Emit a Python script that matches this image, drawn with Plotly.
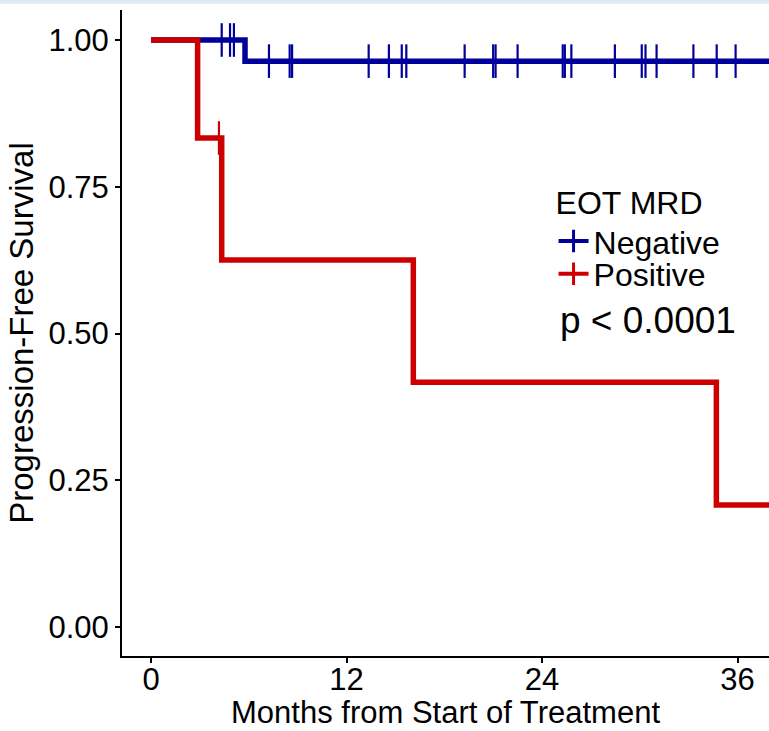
import plotly.graph_objects as go
import numpy as np

# ---- data ----
neg_event_times = [0.0, 5.77]
neg_event_surv = [1.0, 0.964]
neg_end_time = 38.5
neg_censor_times = [4.34, 4.85, 5.09, 7.24, 8.51, 8.66, 13.36, 14.60, 15.39, 15.67,
                    19.25, 21.00, 21.15, 22.50, 25.27, 25.40, 25.80, 28.47, 30.12,
                    30.35, 31.03, 33.29, 34.72, 35.88]

pos_event_times = [0.0, 2.86, 4.34, 16.1, 34.7]
pos_event_surv = [1.0, 0.833, 0.625, 0.417, 0.208]
pos_end_time = 38.5
pos_censor_times = [4.17]

group_names = ["Negative", "Positive"]
group_colors = ["#00009a", "#cc0000"]
legend_title = "EOT MRD"
p_text = "p < 0.0001"
x_title = "Months from Start of Treatment"
y_title = "Progression-Free Survival"
x_ticks = [0, 12, 24, 36]
y_ticks = [0.0, 0.25, 0.5, 0.75, 1.0]
y_tick_labels = ["0.00", "0.25", "0.50", "0.75", "1.00"]

FONT = "Liberation Sans, Arial, sans-serif"


def surv_at(times, surv, t):
    idx = np.searchsorted(times, t, side="right") - 1
    return surv[max(idx, 0)]


fig = go.Figure()

groups = [
    (neg_event_times, neg_event_surv, neg_end_time, neg_censor_times),
    (pos_event_times, pos_event_surv, pos_end_time, pos_censor_times),
]
legend_ids = ["legend", "legend2"]

for (et, es, end, ct), name, col, lg in zip(groups, group_names, group_colors, legend_ids):
    xs = list(et) + [end]
    ys = list(es) + [es[-1]]
    fig.add_trace(go.Scatter(
        x=xs, y=ys, mode="lines", line=dict(color=col, width=5.5, shape="hv"),
        name=name, legendgroup=name, showlegend=False, hoverinfo="skip"))
    cy = [surv_at(et, es, t) for t in ct]
    fig.add_trace(go.Scatter(
        x=ct, y=cy, mode="markers",
        marker=dict(symbol="line-ns", size=24, line=dict(color=col, width=2.2), color=col),
        name=name, legendgroup=name, showlegend=False, hoverinfo="skip"))
    # legend entry
    fig.add_trace(go.Scatter(
        x=[None], y=[None], mode="lines+markers",
        line=dict(color=col, width=4),
        marker=dict(symbol="line-ns", size=24, line=dict(color=col, width=3), color=col),
        name=name, legendgroup=name, showlegend=True, legend=lg))

fig.add_annotation(x=30.5, y=0.523, xref="x", yref="y", text=p_text, showarrow=False,
                   font=dict(family=FONT, size=37, color="black"))

# x-axis title placed below tick labels
fig.add_annotation(x=0.5, y=-0.0882, xref="paper", yref="paper", text=x_title,
                   showarrow=False, xanchor="center", yanchor="middle", borderpad=0,
                   font=dict(family=FONT, size=31, color="black"))

# light band at the very top of the image
fig.add_shape(type="rect", xref="paper", yref="paper", x0=-0.3, x1=1.1,
              y0=1.0095, y1=1.03, fillcolor="#dfeaf5", line=dict(width=0), layer="above")

fig.update_layout(
    width=769, height=731,
    margin=dict(l=122, r=0, t=10, b=75),
    paper_bgcolor="white", plot_bgcolor="white",
    font=dict(family=FONT, color="black", size=31),
    showlegend=True,
    legend=dict(
        x=0.667, y=0.749, xanchor="left", yanchor="top",
        title=dict(text=legend_title, font=dict(size=32)),
        font=dict(size=32), itemwidth=30, tracegroupgap=0,
        bgcolor="rgba(0,0,0,0)",
    ),
    legend2=dict(
        x=0.667, y=0.634, xanchor="left", yanchor="top",
        font=dict(size=32), itemwidth=30, tracegroupgap=0,
        bgcolor="rgba(0,0,0,0)",
    ),
    xaxis=dict(
        range=[-1.78, 37.93], tickvals=x_ticks, ticks="outside", ticklen=5, tickwidth=1.5,
        tickcolor="black", showline=True, linecolor="black", linewidth=2, automargin=False,
        showgrid=False, zeroline=False, tickfont=dict(size=31), ticklabelstandoff=-10,
    ),
    yaxis=dict(
        range=[-0.0494, 1.0511], tickvals=y_ticks, ticktext=y_tick_labels, ticks="outside",
        ticklen=5, tickwidth=1.5, tickcolor="black", showline=True, linecolor="black",
        linewidth=2, showgrid=False, zeroline=False, tickfont=dict(size=31), automargin=False,
        title=dict(text=y_title, font=dict(size=33), standoff=5),
    ),
)

fig.write_html("out.html")
